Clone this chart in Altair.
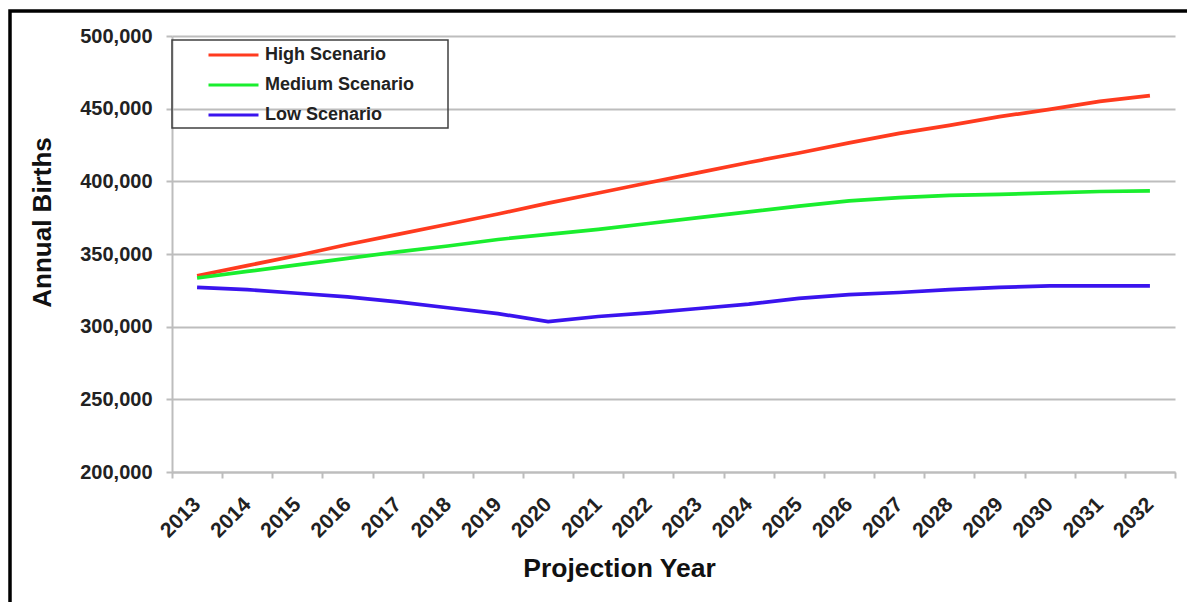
import altair as alt
import pandas as pd

years = [str(y) for y in range(2013, 2033)]
high = [335000, 342000, 349000, 356500, 363500, 370500, 377500, 385000, 392000, 399000,
        406000, 413000, 419500, 426500, 433000, 438500, 444500, 449500, 455000, 459000]
medium = [333500, 338000, 342500, 347000, 351500, 355500, 360000, 363500, 367000, 371000,
          375000, 379000, 383000, 386500, 388800, 390300, 391000, 392000, 393000, 393500]
low = [327000, 325500, 323000, 320500, 317000, 313000, 309000, 303500, 307000, 309500,
       312500, 315500, 319500, 322000, 323500, 325500, 327000, 328000, 328000, 328000]
scenarios = ["High Scenario", "Medium Scenario", "Low Scenario"]
colors = ["#ff3b1f", "#1aee2e", "#3a14ee"]
y_ticks = [200000, 250000, 300000, 350000, 400000, 450000, 500000]

rows = []
for s, vals in zip(scenarios, [high, medium, low]):
    for yr, v in zip(years, vals):
        rows.append({"Year": yr, "Births": v, "Scenario": s})
df = pd.DataFrame(rows)

FONT = "Liberation Sans"
GRAY = "#bdbdbd"

lines = alt.Chart(df).mark_line(strokeWidth=3.7).encode(
    x=alt.X("Year:O", bandPosition=0.5,
            scale=alt.Scale(type="band", paddingInner=0, paddingOuter=0),
            axis=alt.Axis(title="Projection Year", titleFont=FONT, titleFontSize=26.5,
                          titleFontWeight="bold", titleColor="#111",
                          titleX=447, titleY=96, titleAlign="center", titleBaseline="middle",
                          labelAngle=315, labelAlign="right", labelBaseline="middle",
                          labelFont=FONT, labelFontSize=21, labelFontWeight="bold",
                          labelColor="#222", labelPadding=23, tickBand="extent",
                          tickSize=6, tickColor=GRAY, tickWidth=2,
                          domainColor=GRAY, domainWidth=2, grid=False)),
    y=alt.Y("Births:Q", scale=alt.Scale(domain=[200000, 500000], nice=False, zero=False),
            axis=alt.Axis(values=y_ticks, format=",.0f", title="Annual Births",
                          titleFont=FONT, titleFontSize=26, titleFontWeight="bold",
                          titleColor="#111", titleX=-130, titleY=186,
                          titleAlign="center", titleBaseline="middle",
                          labelFont=FONT, labelFontSize=20, labelFontWeight="bold",
                          labelColor="#222", labelPadding=14, tickSize=6,
                          tickColor=GRAY, tickWidth=2, domainColor=GRAY, domainWidth=2,
                          gridColor=GRAY, gridWidth=2)),
    color=alt.Color("Scenario:N", sort=scenarios,
                    scale=alt.Scale(domain=scenarios, range=colors),
                    legend=alt.Legend(orient="none", legendX=35, legendY=4, title=None,
                                      symbolType="stroke", symbolSize=2500,
                                      symbolStrokeWidth=3, labelFont=FONT,
                                      labelFontSize=18, labelFontWeight="bold",
                                      labelColor="#222", labelOffset=5, padding=0,
                                      clipHeight=30, rowPadding=0)),
)

frame_df = pd.DataFrame({"k": [0]})
legend_box = alt.Chart(frame_df).mark_rect(fillOpacity=0, stroke="#404040", strokeWidth=1.5).encode(
    x=alt.value(0), x2=alt.value(276), y=alt.value(4), y2=alt.value(92)
)
outer = alt.Chart(frame_df).mark_rect(fillOpacity=0, stroke="#000", strokeWidth=3.5).encode(
    x=alt.value(-162), x2=alt.value(1060), y=alt.value(-25), y2=alt.value(620)
)

chart = alt.layer(lines, legend_box, outer).properties(
    width=1003, height=436,
    autosize=alt.AutoSizeParams(type="none"),
    padding={"left": 164, "top": 28, "right": 12, "bottom": 130},
    background="white",
).configure_view(stroke=None)

chart.save("out.html", embed_options={"renderer": "svg", "actions": False})
